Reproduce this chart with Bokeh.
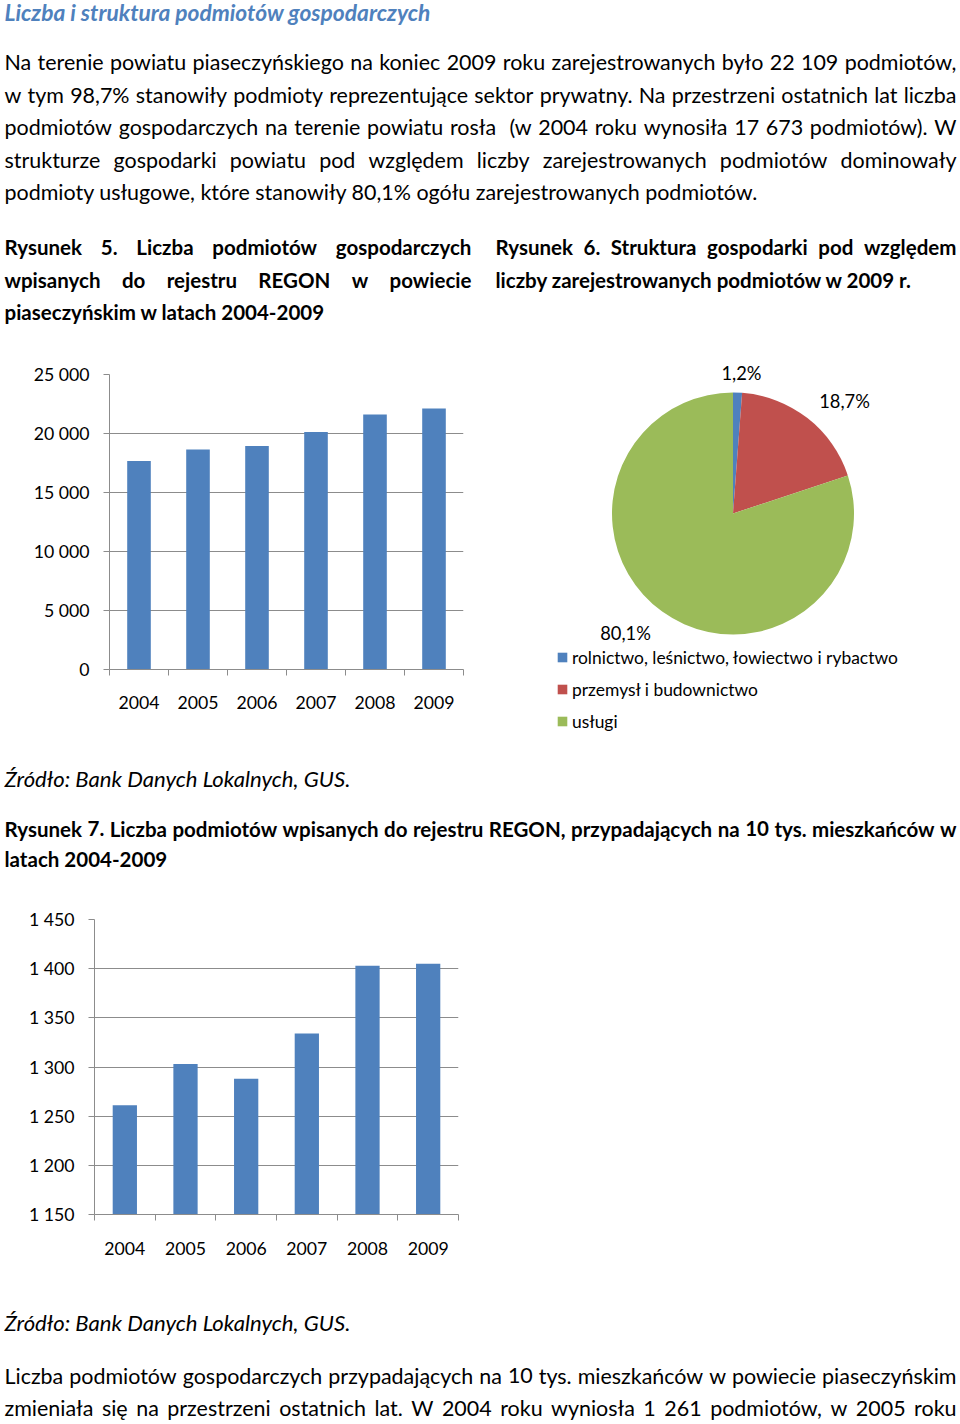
import glob
import math
import os
import subprocess

from bokeh.core.properties import value
from bokeh.embed import file_html
from bokeh.layouts import column, row
from bokeh.models import ColumnDataSource, FixedTicker, Legend, LegendItem, Range1d
from bokeh.plotting import figure
from bokeh.resources import INLINE

# ---------------------------------------------------------------- data
years = [2004, 2005, 2006, 2007, 2008, 2009]

entities = [17673, 18650, 18950, 20130, 21600, 22109]
entities_ticks = [0, 5000, 10000, 15000, 20000, 25000]
entities_tick_labels = ["0", "5 000", "10 000", "15 000", "20 000", "25 000"]

per10k = [1261, 1303, 1288, 1334, 1403, 1405]
per10k_ticks = [1150, 1200, 1250, 1300, 1350, 1400, 1450]
per10k_tick_labels = ["1 150", "1 200", "1 250", "1 300", "1 350", "1 400", "1 450"]

sectors = ["rolnictwo, leśnictwo, łowiectwo i rybactwo", "przemysł i budownictwo", "usługi"]
sector_shares = [1.2, 18.7, 80.1]
sector_labels = ["1,2%", "18,7%", "80,1%"]
sector_colors = ["#4F81BD", "#C0504D", "#9BBB59"]

# ---------------------------------------------------------------- texts
title_text = "Liczba i struktura podmiotów gospodarczych"
intro_lines = [
    "Na terenie powiatu piaseczyńskiego na koniec 2009 roku zarejestrowanych było 22 109 podmiotów,",
    "w tym 98,7% stanowiły podmioty reprezentujące sektor prywatny. Na przestrzeni ostatnich lat liczba",
    "podmiotów gospodarczych na terenie powiatu rosła  (w 2004 roku wynosiła 17 673 podmiotów). W",
    "strukturze gospodarki powiatu pod względem liczby zarejestrowanych podmiotów dominowały",
    "podmioty usługowe, które stanowiły 80,1% ogółu zarejestrowanych podmiotów.",
]
fig5_lines = [
    "Rysunek 5. Liczba podmiotów gospodarczych",
    "wpisanych do rejestru REGON w powiecie",
    "piaseczyńskim w latach 2004-2009",
]
fig6_lines = [
    "Rysunek 6. Struktura gospodarki pod względem",
    "liczby zarejestrowanych podmiotów w 2009 r.",
]
source_text = "Źródło: Bank Danych Lokalnych, GUS."
fig7_lines = [
    "Rysunek 7. Liczba podmiotów wpisanych do rejestru REGON, przypadających na 10 tys. mieszkańców w",
    "latach 2004-2009",
]
outro_lines = [
    "Liczba podmiotów gospodarczych przypadających na 10 tys. mieszkańców w powiecie piaseczyńskim",
    "zmieniała się na przestrzeni ostatnich lat. W 2004 roku wyniosła 1 261 podmiotów, w 2005 roku",
]

# ---------------------------------------------------------------- fonts / measuring
FONT = "Lato"
BLUE_TITLE = "#4F81BD"
GRID = "#8C8C8C"
TXT = "#000000"

STYLE_FILES = {
    "normal": ["Lato-Regular.ttf", "Lato-Reg.ttf", "Lato-Regular.otf"],
    "bold": ["Lato-Bold.ttf", "Lato-Bold.otf"],
    "italic": ["Lato-Italic.ttf", "Lato-Italic.otf"],
    "bold italic": ["Lato-BoldItalic.ttf", "Lato-BoldItalic.otf"],
}
FC_NAMES = {
    "normal": "Lato:style=Regular",
    "bold": "Lato:style=Bold",
    "italic": "Lato:style=Italic",
    "bold italic": "Lato:style=Bold Italic",
}


def find_font(style):
    roots = ["/usr/share/fonts", "/usr/local/share/fonts",
             os.path.expanduser("~/.fonts"), os.path.expanduser("~/.local/share/fonts")]
    for name in STYLE_FILES[style]:
        for root in roots:
            hits = glob.glob(os.path.join(root, "**", name), recursive=True)
            if hits:
                return hits[0]
    try:
        out = subprocess.run(["fc-match", "-f", "%{file}", FC_NAMES[style]],
                             capture_output=True, text=True, timeout=5).stdout.strip()
        if out and "lato" in os.path.basename(out).lower() and os.path.exists(out):
            return out
    except Exception:
        pass
    return None


try:
    from PIL import ImageFont
except Exception:  # pragma: no cover
    ImageFont = None

_fonts = {}


def text_width(s, style, size):
    if style not in _fonts:
        f = None
        path = find_font(style)
        if ImageFont is not None and path:
            try:
                f = ImageFont.truetype(path, 200)
            except Exception:
                f = None
        _fonts[style] = f
    f = _fonts[style]
    if f is None:
        return len(s) * size * (0.53 if "bold" in style else 0.50)
    return f.getlength(s) * size / 200.0


def fit_size(samples, style):
    r = [tw / text_width(t, style, 100.0) * 100.0 for t, tw in samples]
    return sum(r) / len(r)


LEFT, RIGHT = 4, 956
LINE = 32.5

size_reg = fit_size([(intro_lines[4], 753)], "normal")
size_bold = fit_size([(fig5_lines[2], 329), (fig6_lines[1], 439), (fig7_lines[1], 149)], "bold")
size_it = fit_size([(source_text, 346)], "italic")
size_bi = fit_size([(title_text, 426)], "bold italic")

size_axis = fit_size([("25 000", 56), ("2004", 41), ("1 450", 45.7)], "normal")
size_pie = fit_size([("18,7%", 50.7), ("80,1%", 50.7)], "normal")
size_leg = fit_size([(sectors[0], 326)], "normal")


def layout_line(text, left, right, y, style, size, justify):
    if not justify:
        return [(left, y, text)]
    words = text.split(" ")
    widths = [text_width(w, style, size) for w in words]
    gap = (right - left - sum(widths)) / (len(words) - 1)
    out, x = [], left
    for w, wd in zip(words, widths):
        if w:
            out.append((x, y, w))
        x += wd + gap
    return out


def add_text(p, items, style, size, color=TXT):
    src = ColumnDataSource(dict(x=[i[0] for i in items], y=[i[1] for i in items],
                                text=[i[2] for i in items]))
    p.text(x="x", y="y", text="text", source=src, text_font=value(FONT),
           text_font_size=value(f"{size:.2f}px"), text_font_style=value(style),
           text_color=color, text_align="left", text_baseline="alphabetic")


def text_fig(top, bottom):
    p = figure(width=960, height=bottom - top, x_range=Range1d(0, 960),
               y_range=Range1d(bottom, top), x_axis_type=None, y_axis_type=None,
               tools="", toolbar_location=None, output_backend="svg",
               min_border=0, outline_line_color=None)
    p.min_border_left = p.min_border_right = p.min_border_top = p.min_border_bottom = 0
    return p


# ---------------------------------------------------------------- top text block
fa = text_fig(0, 345)
add_text(fa, [(LEFT, 11.5, title_text)], "bold italic", size_bi, BLUE_TITLE)
items = []
for i, ln in enumerate(intro_lines):
    items += layout_line(ln, LEFT, RIGHT, 61.5 + LINE * i, "normal", size_reg, i < len(intro_lines) - 1)
add_text(fa, items, "normal", size_reg)
items = []
for i, ln in enumerate(fig5_lines):
    items += layout_line(ln, LEFT, 471, 246.5 + LINE * i, "bold", size_bold, i < len(fig5_lines) - 1)
for i, ln in enumerate(fig6_lines):
    items += layout_line(ln, 495, RIGHT, 246.5 + LINE * i, "bold", size_bold, i < len(fig6_lines) - 1)
add_text(fa, items, "bold", size_bold)


# ---------------------------------------------------------------- bar charts
def bar_chart(height, top_b, bottom_b, left_b, right_b, vals, ticks, tick_labels, x_standoff):
    p = figure(width=488, height=height, x_range=Range1d(years[0] - 0.5, years[-1] + 0.5),
               y_range=Range1d(ticks[0], ticks[-1]), tools="", toolbar_location=None,
               output_backend="svg", outline_line_color=None,
               min_border_left=left_b, min_border_right=right_b,
               min_border_top=top_b, min_border_bottom=bottom_b)
    p.vbar(x=years, top=vals, bottom=ticks[0], width=0.4, fill_color="#4F81BD", line_color=None)
    p.xgrid.grid_line_color = None
    p.yaxis.ticker = FixedTicker(ticks=ticks)
    p.ygrid.ticker = FixedTicker(ticks=ticks)
    p.ygrid.grid_line_color = GRID
    p.ygrid.grid_line_width = 1
    p.yaxis.major_label_overrides = dict(zip(ticks, tick_labels))
    p.yaxis.major_tick_out = 6
    p.yaxis.major_tick_in = 0
    p.yaxis.minor_tick_line_color = None
    p.yaxis.axis_line_color = GRID
    p.yaxis.major_tick_line_color = GRID
    p.yaxis.major_label_standoff = 14
    minor = [y - 0.5 for y in years] + [years[-1] + 0.5]
    p.xaxis.ticker = FixedTicker(ticks=years, minor_ticks=minor)
    p.xaxis.major_tick_line_color = None
    p.xaxis.major_tick_out = 0
    p.xaxis.major_tick_in = 0
    p.xaxis.minor_tick_out = 6
    p.xaxis.minor_tick_in = 0
    p.xaxis.minor_tick_line_color = GRID
    p.xaxis.axis_line_color = GRID
    p.xaxis.major_label_standoff = x_standoff
    for ax in (p.xaxis, p.yaxis):
        ax.major_label_text_font = FONT
        ax.major_label_text_font_size = f"{size_axis:.2f}px"
        ax.major_label_text_color = TXT
    return p


b1 = bar_chart(405, 29, 81, 109, 25, entities, entities_ticks, entities_tick_labels, 20)

# ---------------------------------------------------------------- pie chart
pie = figure(width=472, height=405, x_range=Range1d(488, 960), y_range=Range1d(-750, -345),
             x_axis_type=None, y_axis_type=None, tools="", toolbar_location=None,
             output_backend="svg", min_border=0, outline_line_color=None)
pie.min_border_left = pie.min_border_right = pie.min_border_top = pie.min_border_bottom = 0
starts, ends, ang = [], [], 90.0
for s in sector_shares:
    starts.append(math.radians(ang))
    ang -= s * 3.6
    ends.append(math.radians(ang))
psrc = ColumnDataSource(dict(start=starts, end=ends, color=sector_colors, name=sectors))
wr = pie.wedge(x=732.5, y=-513, radius=121, start_angle="start", end_angle="end",
               direction="clock", fill_color="color", line_color=None, source=psrc)
label_pos = [(741, 372), (844, 400), (625, 632)]
lsrc = ColumnDataSource(dict(x=[p[0] for p in label_pos], y=[-p[1] for p in label_pos],
                             text=sector_labels))
pie.text(x="x", y="y", text="text", source=lsrc, text_font=value(FONT),
         text_font_size=value(f"{size_pie:.2f}px"), text_color=TXT,
         text_align="center", text_baseline="middle")
leg = Legend(items=[LegendItem(label=s, renderers=[wr], index=i) for i, s in enumerate(sectors)],
             location=(68, 18), orientation="vertical", glyph_width=12, glyph_height=12,
             label_standoff=4, spacing=10, padding=0, margin=0, label_height=22,
             border_line_color=None, background_fill_alpha=0,
             label_text_font=FONT, label_text_font_size=f"{size_leg:.2f}px",
             label_text_color=TXT)
pie.add_layout(leg)

# ---------------------------------------------------------------- middle text block
fc = text_fig(750, 890)
add_text(fc, [(LEFT, 777.5, source_text)], "italic", size_it)
items = []
for i, ln in enumerate(fig7_lines):
    items += layout_line(ln, LEFT, RIGHT, 828 + 30.5 * i, "bold", size_bold, i < len(fig7_lines) - 1)
add_text(fc, items, "bold", size_bold)

# ---------------------------------------------------------------- second bar chart
b3 = bar_chart(390, 29, 66, 94, 30, per10k, per10k_ticks, per10k_tick_labels, 21)

# ---------------------------------------------------------------- bottom text block
fe = text_fig(1280, 1424)
add_text(fe, [(LEFT, 1322, source_text)], "italic", size_it)
items = []
for i, ln in enumerate(outro_lines):
    items += layout_line(ln, LEFT, RIGHT, 1375 + LINE * i, "normal", size_reg, True)
add_text(fe, items, "normal", size_reg)

# nested rows / columns keep Bokeh from aligning the frames of unrelated figures
page = column(row(fa), row(column(b1), column(pie)), row(fc), row(column(b3)), row(fe))

with open("out.html", "w") as fh:
    fh.write(file_html(page, INLINE, "Liczba i struktura podmiotów gospodarczych"))
